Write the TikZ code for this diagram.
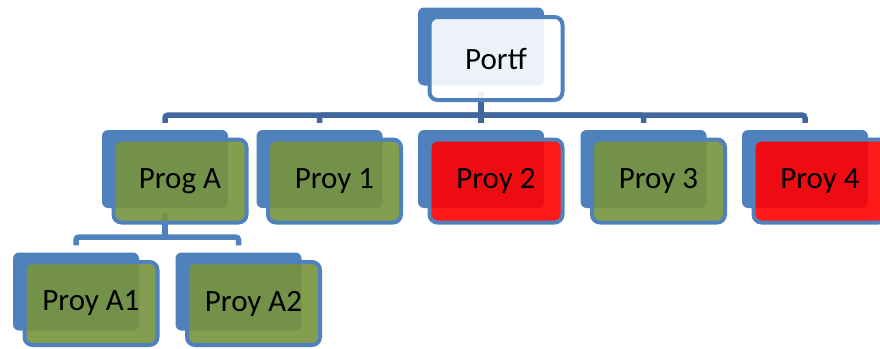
\documentclass[tikz,border=0pt]{standalone}
\usepackage{fontspec}
\setmainfont{Carlito}
\definecolor{backblue}{RGB}{79,129,189}
\definecolor{linkdark}{RGB}{64,104,158}
\definecolor{olive}{RGB}{119,147,60}

\begin{document}
\begin{tikzpicture}[x=1pt,y=-1pt,
    back/.style={fill=backblue,rounded corners=6pt,minimum width=126pt,minimum height=78pt,inner sep=0pt},
    front/.style={draw=backblue,line width=4pt,rounded corners=8pt,fill opacity=.9,text opacity=1,minimum width=133pt,minimum height=83pt,inner sep=0pt,font=\fontsize{31}{36}\selectfont},
    link/.style={draw=linkdark,line width=5.5pt,rounded corners=3pt,shorten >=7pt}]
            \useasboundingbox (0,0) rectangle (880,348);
            \node[back] (portf) at (481,46.5) {};
            \node[back] (proga) at (165,169) {};
            \node[back] (proy1) at (319.5,169) {};
            \node[back] (proy2) at (481,169) {};
            \node[back] (proy3) at (643.5,169) {};
            \node[back] (proy4) at (805,169) {};
            \node[back] (proya1) at (76,291.5) {};
            \node[back] (proya2) at (238.5,291.5) {};
            \coordinate (bus1) at (481,115);
            \coordinate (bus2) at (165,237);
            \draw[link,shorten <=6pt,shorten >=0pt] (portf.south) -- (bus1);
            \foreach \n in {proga,proy1,proy2,proy3,proy4}
                \draw[link] (bus1) -| (\n.north);
            \draw[link,draw=backblue,shorten <=5pt,shorten >=0pt] (proga.south) -- (bus2);
            \draw[link,draw=backblue] (bus2) -| (proya1.north);
            \draw[link,draw=backblue] (bus2) -| (proya2.north);
            \node[front,fill=white] (portf-f) at ([xshift=15pt,yshift=-12pt]portf.center) {Portf};
            \node[front,fill=olive] (proga-f) at ([xshift=15pt,yshift=-12pt]proga.center) {Prog A};
            \node[front,fill=olive] (proy1-f) at ([xshift=15pt,yshift=-12pt]proy1.center) {Proy 1};
            \node[front,fill=red] (proy2-f) at ([xshift=15pt,yshift=-12pt]proy2.center) {Proy 2};
            \node[front,fill=olive] (proy3-f) at ([xshift=15pt,yshift=-12pt]proy3.center) {Proy 3};
            \node[front,fill=red] (proy4-f) at ([xshift=15pt,yshift=-12pt]proy4.center) {Proy 4};
            \node[front,fill=olive] (proya1-f) at ([xshift=15pt,yshift=-12pt]proya1.center) {Proy A1};
            \node[front,fill=olive] (proya2-f) at ([xshift=15pt,yshift=-12pt]proya2.center) {Proy A2};
        \end{tikzpicture}
\end{document}
